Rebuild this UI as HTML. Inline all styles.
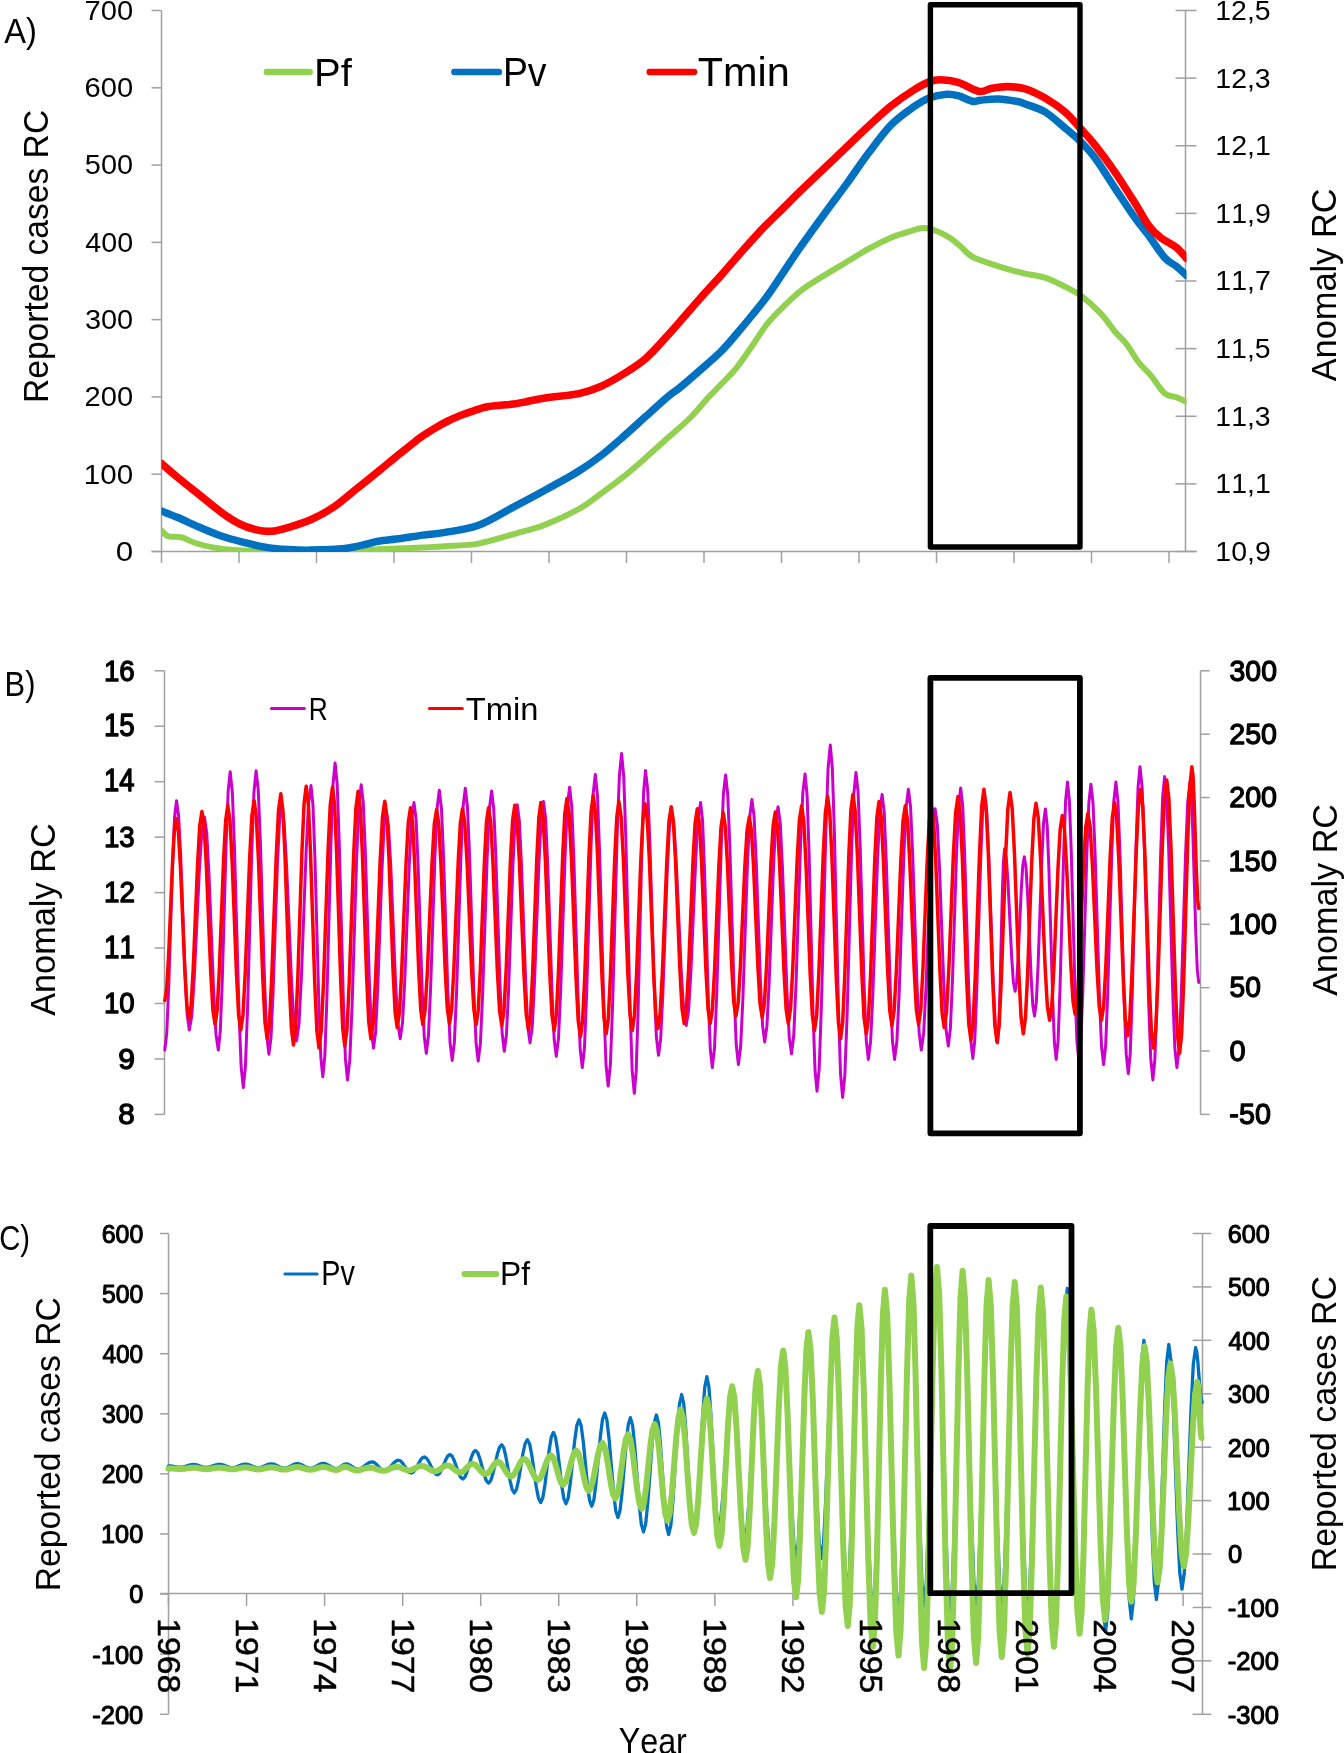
<!DOCTYPE html>
<html><head><meta charset="utf-8"><title>Figure</title>
<style>html,body{margin:0;padding:0;background:#fff;}body{width:1344px;height:1753px;overflow:hidden;}svg{display:block;will-change:transform;}</style>
</head><body>
<svg width="1344" height="1753" viewBox="0 0 1344 1753">
<rect width="1344" height="1753" fill="#fff"/>
<line x1="161.50" y1="10.50" x2="161.50" y2="551.50" stroke="#a0a0a0" stroke-width="1.50"/>
<line x1="151.50" y1="10.50" x2="161.50" y2="10.50" stroke="#a0a0a0" stroke-width="1.50"/>
<line x1="151.50" y1="87.79" x2="161.50" y2="87.79" stroke="#a0a0a0" stroke-width="1.50"/>
<line x1="151.50" y1="165.07" x2="161.50" y2="165.07" stroke="#a0a0a0" stroke-width="1.50"/>
<line x1="151.50" y1="242.36" x2="161.50" y2="242.36" stroke="#a0a0a0" stroke-width="1.50"/>
<line x1="151.50" y1="319.64" x2="161.50" y2="319.64" stroke="#a0a0a0" stroke-width="1.50"/>
<line x1="151.50" y1="396.93" x2="161.50" y2="396.93" stroke="#a0a0a0" stroke-width="1.50"/>
<line x1="151.50" y1="474.21" x2="161.50" y2="474.21" stroke="#a0a0a0" stroke-width="1.50"/>
<line x1="151.50" y1="551.50" x2="161.50" y2="551.50" stroke="#a0a0a0" stroke-width="1.50"/>
<line x1="151.50" y1="551.50" x2="1196.50" y2="551.50" stroke="#a0a0a0" stroke-width="1.50"/>
<line x1="161.50" y1="551.50" x2="161.50" y2="563.00" stroke="#a0a0a0" stroke-width="1.50"/>
<line x1="239.00" y1="551.50" x2="239.00" y2="563.00" stroke="#a0a0a0" stroke-width="1.50"/>
<line x1="316.50" y1="551.50" x2="316.50" y2="563.00" stroke="#a0a0a0" stroke-width="1.50"/>
<line x1="394.00" y1="551.50" x2="394.00" y2="563.00" stroke="#a0a0a0" stroke-width="1.50"/>
<line x1="471.50" y1="551.50" x2="471.50" y2="563.00" stroke="#a0a0a0" stroke-width="1.50"/>
<line x1="549.00" y1="551.50" x2="549.00" y2="563.00" stroke="#a0a0a0" stroke-width="1.50"/>
<line x1="626.50" y1="551.50" x2="626.50" y2="563.00" stroke="#a0a0a0" stroke-width="1.50"/>
<line x1="704.00" y1="551.50" x2="704.00" y2="563.00" stroke="#a0a0a0" stroke-width="1.50"/>
<line x1="781.50" y1="551.50" x2="781.50" y2="563.00" stroke="#a0a0a0" stroke-width="1.50"/>
<line x1="859.00" y1="551.50" x2="859.00" y2="563.00" stroke="#a0a0a0" stroke-width="1.50"/>
<line x1="936.50" y1="551.50" x2="936.50" y2="563.00" stroke="#a0a0a0" stroke-width="1.50"/>
<line x1="1014.00" y1="551.50" x2="1014.00" y2="563.00" stroke="#a0a0a0" stroke-width="1.50"/>
<line x1="1091.50" y1="551.50" x2="1091.50" y2="563.00" stroke="#a0a0a0" stroke-width="1.50"/>
<line x1="1169.00" y1="551.50" x2="1169.00" y2="563.00" stroke="#a0a0a0" stroke-width="1.50"/>
<line x1="1185.50" y1="10.50" x2="1185.50" y2="551.50" stroke="#a0a0a0" stroke-width="1.50"/>
<line x1="1175.50" y1="10.50" x2="1196.50" y2="10.50" stroke="#a0a0a0" stroke-width="1.50"/>
<line x1="1175.50" y1="78.12" x2="1196.50" y2="78.12" stroke="#a0a0a0" stroke-width="1.50"/>
<line x1="1175.50" y1="145.75" x2="1196.50" y2="145.75" stroke="#a0a0a0" stroke-width="1.50"/>
<line x1="1175.50" y1="213.38" x2="1196.50" y2="213.38" stroke="#a0a0a0" stroke-width="1.50"/>
<line x1="1175.50" y1="281.00" x2="1196.50" y2="281.00" stroke="#a0a0a0" stroke-width="1.50"/>
<line x1="1175.50" y1="348.62" x2="1196.50" y2="348.62" stroke="#a0a0a0" stroke-width="1.50"/>
<line x1="1175.50" y1="416.25" x2="1196.50" y2="416.25" stroke="#a0a0a0" stroke-width="1.50"/>
<line x1="1175.50" y1="483.88" x2="1196.50" y2="483.88" stroke="#a0a0a0" stroke-width="1.50"/>
<line x1="1175.50" y1="551.50" x2="1196.50" y2="551.50" stroke="#a0a0a0" stroke-width="1.50"/>
<text transform="translate(84.51 19.85) scale(1.0740 1)" style="font-family:&quot;Liberation Sans&quot;,sans-serif;font-size:27.140px;font-weight:normal;font-kerning:none" fill="#000">700</text>
<text transform="translate(84.52 97.14) scale(1.0737 1)" style="font-family:&quot;Liberation Sans&quot;,sans-serif;font-size:27.140px;font-weight:normal;font-kerning:none" fill="#000">600</text>
<text transform="translate(84.84 174.42) scale(1.0664 1)" style="font-family:&quot;Liberation Sans&quot;,sans-serif;font-size:27.140px;font-weight:normal;font-kerning:none" fill="#000">500</text>
<text transform="translate(85.34 251.71) scale(1.0551 1)" style="font-family:&quot;Liberation Sans&quot;,sans-serif;font-size:27.140px;font-weight:normal;font-kerning:none" fill="#000">400</text>
<text transform="translate(84.90 328.99) scale(1.0651 1)" style="font-family:&quot;Liberation Sans&quot;,sans-serif;font-size:27.140px;font-weight:normal;font-kerning:none" fill="#000">300</text>
<text transform="translate(84.53 406.28) scale(1.0734 1)" style="font-family:&quot;Liberation Sans&quot;,sans-serif;font-size:27.140px;font-weight:normal;font-kerning:none" fill="#000">200</text>
<text transform="translate(83.74 483.56) scale(1.0912 1)" style="font-family:&quot;Liberation Sans&quot;,sans-serif;font-size:27.140px;font-weight:normal;font-kerning:none" fill="#000">100</text>
<text transform="translate(115.77 560.85) scale(1.1562 1)" style="font-family:&quot;Liberation Sans&quot;,sans-serif;font-size:27.140px;font-weight:normal;font-kerning:none" fill="#000">0</text>
<text transform="translate(1215.34 19.90) scale(1.0166 1)" style="font-family:&quot;Liberation Sans&quot;,sans-serif;font-size:27.927px;font-weight:normal;font-kerning:none" fill="#000">12,5</text>
<text transform="translate(1215.34 87.53) scale(1.0176 1)" style="font-family:&quot;Liberation Sans&quot;,sans-serif;font-size:27.927px;font-weight:normal;font-kerning:none" fill="#000">12,3</text>
<text transform="translate(1215.33 155.15) scale(1.0204 1)" style="font-family:&quot;Liberation Sans&quot;,sans-serif;font-size:27.927px;font-weight:normal;font-kerning:none" fill="#000">12,1</text>
<text transform="translate(1215.33 222.78) scale(1.0196 1)" style="font-family:&quot;Liberation Sans&quot;,sans-serif;font-size:27.927px;font-weight:normal;font-kerning:none" fill="#000">11,9</text>
<text transform="translate(1215.33 290.40) scale(1.0062 1)" style="font-family:&quot;Liberation Sans&quot;,sans-serif;font-size:28.344px;font-weight:normal;font-kerning:none" fill="#000">11,7</text>
<text transform="translate(1215.34 358.02) scale(1.0016 1)" style="font-family:&quot;Liberation Sans&quot;,sans-serif;font-size:28.344px;font-weight:normal;font-kerning:none" fill="#000">11,5</text>
<text transform="translate(1215.34 425.65) scale(1.0176 1)" style="font-family:&quot;Liberation Sans&quot;,sans-serif;font-size:27.927px;font-weight:normal;font-kerning:none" fill="#000">11,3</text>
<text transform="translate(1215.33 493.27) scale(1.0054 1)" style="font-family:&quot;Liberation Sans&quot;,sans-serif;font-size:28.344px;font-weight:normal;font-kerning:none" fill="#000">11,1</text>
<text transform="translate(1215.33 560.90) scale(1.0196 1)" style="font-family:&quot;Liberation Sans&quot;,sans-serif;font-size:27.927px;font-weight:normal;font-kerning:none" fill="#000">10,9</text>
<text transform="translate(4.14 42.90) scale(0.9290 1)" style="font-family:&quot;Liberation Sans&quot;,sans-serif;font-size:35.191px;font-weight:normal;font-kerning:none" fill="#000">A)</text>
<text transform="translate(48.40 403.06) rotate(-90) scale(0.9515 1)" style="font-family:&quot;Liberation Sans&quot;,sans-serif;font-size:35.329px;font-weight:normal;font-kerning:none" fill="#000">Reported cases RC</text>
<text transform="translate(1336.20 381.37) rotate(-90) scale(0.9808 1)" style="font-family:&quot;Liberation Sans&quot;,sans-serif;font-size:35.053px;font-weight:normal;font-kerning:none" fill="#000">Anomaly RC</text>
<line x1="266.8" y1="72.1" x2="309.7" y2="72.1" stroke="#92D050" stroke-width="6.5" stroke-linecap="round"/>
<text transform="translate(314.12 86.10) scale(1.0201 1)" style="font-family:&quot;Liberation Sans&quot;,sans-serif;font-size:39.246px;font-weight:normal;font-kerning:none" fill="#000">Pf</text>
<line x1="454.4" y1="72.1" x2="498.9" y2="72.1" stroke="#0070C0" stroke-width="6.5" stroke-linecap="round"/>
<text transform="translate(502.94 86.10) scale(0.9049 1)" style="font-family:&quot;Liberation Sans&quot;,sans-serif;font-size:41.280px;font-weight:normal;font-kerning:none" fill="#000">Pv</text>
<line x1="649.7" y1="72.1" x2="694.0" y2="72.1" stroke="#FF0000" stroke-width="6.5" stroke-linecap="round"/>
<text transform="translate(697.77 86.10) scale(1.0323 1)" style="font-family:&quot;Liberation Sans&quot;,sans-serif;font-size:40.160px;font-weight:normal;font-kerning:none" fill="#000">Tmin</text>
<defs><clipPath id="clipA"><rect x="161.5" y="0" width="1025" height="552"/></clipPath></defs>
<g clip-path="url(#clipA)" fill="none" stroke-linejoin="round" stroke-linecap="round">
<path d="M161.50,530.50 C162.65,531.47 165.02,535.15 168.40,536.30 C171.78,537.45 177.33,536.28 181.80,537.40 C186.27,538.52 190.00,541.33 195.20,543.00 C200.40,544.67 206.68,546.23 213.00,547.40 C219.32,548.57 225.27,549.40 233.10,550.00 C240.93,550.60 248.85,550.83 260.00,551.00 C271.15,551.17 286.67,551.00 300.00,551.00 C313.33,551.00 326.97,551.30 340.00,551.00 C353.03,550.70 364.38,549.80 378.20,549.20 C392.02,548.60 411.77,547.88 422.90,547.40 C434.03,546.92 435.73,546.93 445.00,546.30 C454.27,545.67 467.33,545.55 478.50,543.60 C489.67,541.65 500.85,537.77 512.00,534.60 C523.15,531.43 534.25,528.87 545.40,524.60 C556.55,520.33 569.58,514.22 578.90,509.00 C588.22,503.78 593.85,498.70 601.30,493.30 C608.75,487.90 616.17,482.55 623.60,476.60 C631.03,470.65 638.47,464.12 645.90,457.60 C653.33,451.08 660.77,444.18 668.20,437.50 C675.63,430.82 683.92,424.07 690.50,417.50 C697.08,410.93 702.60,403.63 707.70,398.10 C712.80,392.57 716.30,389.35 721.10,384.30 C725.90,379.25 731.37,374.13 736.50,367.80 C741.63,361.47 746.77,353.65 751.90,346.30 C757.03,338.95 762.17,330.20 767.30,323.70 C772.43,317.20 776.92,312.93 782.70,307.30 C788.48,301.67 795.07,295.22 802.00,289.90 C808.93,284.58 816.87,280.05 824.30,275.40 C831.73,270.75 839.17,266.47 846.60,262.00 C854.03,257.53 861.45,252.68 868.90,248.60 C876.35,244.52 885.35,240.10 891.30,237.50 C897.25,234.90 899.28,234.58 904.60,233.00 C909.92,231.42 917.98,228.37 923.20,228.00 C928.42,227.63 931.55,229.22 935.90,230.80 C940.25,232.38 945.28,235.00 949.30,237.50 C953.32,240.00 956.28,242.65 960.00,245.80 C963.72,248.95 966.32,253.33 971.60,256.40 C976.88,259.47 984.63,261.78 991.70,264.20 C998.77,266.62 1008.45,269.33 1014.00,270.90 C1019.55,272.47 1019.83,272.48 1025.00,273.60 C1030.17,274.72 1038.35,275.43 1045.00,277.60 C1051.65,279.77 1058.92,283.60 1064.90,286.60 C1070.88,289.60 1074.90,291.10 1080.90,295.60 C1086.90,300.10 1095.25,307.62 1100.90,313.60 C1106.55,319.58 1110.48,326.35 1114.80,331.50 C1119.12,336.65 1122.80,339.33 1126.80,344.50 C1130.80,349.67 1134.80,357.35 1138.80,362.50 C1142.80,367.65 1146.48,370.25 1150.80,375.40 C1155.12,380.55 1160.38,389.73 1164.70,393.40 C1169.02,397.07 1173.07,396.00 1176.70,397.40 C1180.33,398.80 1184.87,401.07 1186.50,401.80" stroke="#92D050" stroke-width="6"/>
<path d="M161.50,511.00 C164.13,512.05 170.95,514.58 177.30,517.30 C183.65,520.02 192.15,524.13 199.60,527.30 C207.05,530.47 214.55,533.77 222.00,536.30 C229.45,538.83 236.87,540.65 244.30,542.50 C251.73,544.35 259.17,546.22 266.60,547.40 C274.03,548.58 281.45,549.15 288.90,549.60 C296.35,550.05 302.00,550.28 311.30,550.10 C320.60,549.92 335.42,549.52 344.70,548.50 C353.98,547.48 361.42,545.22 367.00,544.00 C372.58,542.78 372.62,542.12 378.20,541.20 C383.78,540.28 393.05,539.52 400.50,538.50 C407.95,537.48 415.48,536.12 422.90,535.10 C430.32,534.08 435.73,534.03 445.00,532.40 C454.27,530.77 467.33,529.38 478.50,525.30 C489.67,521.22 500.85,513.78 512.00,507.90 C523.15,502.02 534.25,496.15 545.40,490.00 C556.55,483.85 569.58,476.77 578.90,471.00 C588.22,465.23 593.85,461.17 601.30,455.40 C608.75,449.63 616.17,442.92 623.60,436.40 C631.03,429.88 638.47,422.98 645.90,416.30 C653.33,409.62 662.52,401.10 668.20,396.30 C673.88,391.50 674.62,391.90 680.00,387.50 C685.38,383.10 693.65,375.92 700.50,369.90 C707.35,363.88 715.10,357.38 721.10,351.40 C727.10,345.42 731.37,339.98 736.50,334.00 C741.63,328.02 746.77,321.83 751.90,315.50 C757.03,309.17 762.17,303.02 767.30,296.00 C772.43,288.98 777.25,281.45 782.70,273.40 C788.15,265.35 793.07,257.60 800.00,247.70 C806.93,237.80 816.53,224.63 824.30,214.00 C832.07,203.37 839.17,194.13 846.60,183.90 C854.03,173.67 861.45,162.47 868.90,152.60 C876.35,142.73 883.85,132.32 891.30,124.70 C898.75,117.08 907.28,111.37 913.60,106.90 C919.92,102.43 923.68,100.02 929.20,97.90 C934.72,95.78 941.87,94.57 946.70,94.20 C951.53,93.83 953.88,94.52 958.20,95.70 C962.52,96.88 968.88,100.55 972.60,101.30 C976.32,102.05 976.20,100.58 980.50,100.20 C984.80,99.82 992.43,98.82 998.40,99.00 C1004.37,99.18 1011.87,100.48 1016.30,101.30 C1020.73,102.12 1020.22,102.13 1025.00,103.90 C1029.78,105.67 1038.35,107.90 1045.00,111.90 C1051.65,115.90 1058.92,122.90 1064.90,127.90 C1070.88,132.90 1075.90,136.92 1080.90,141.90 C1085.90,146.88 1089.25,150.15 1094.90,157.80 C1100.55,165.45 1108.15,177.82 1114.80,187.80 C1121.45,197.78 1129.13,209.72 1134.80,217.70 C1140.47,225.68 1143.82,229.03 1148.80,235.70 C1153.78,242.37 1160.05,252.55 1164.70,257.70 C1169.35,262.85 1173.07,263.63 1176.70,266.60 C1180.33,269.57 1184.87,274.02 1186.50,275.50" stroke="#0070C0" stroke-width="7.5"/>
<path d="M161.50,463.50 C164.13,465.77 170.95,471.85 177.30,477.10 C183.65,482.35 192.15,489.05 199.60,495.00 C207.05,500.95 215.30,507.97 222.00,512.80 C228.70,517.63 234.23,521.20 239.80,524.00 C245.37,526.80 250.20,528.38 255.40,529.60 C260.60,530.82 265.42,531.68 271.00,531.30 C276.58,530.92 282.18,529.27 288.90,527.30 C295.62,525.33 303.85,522.85 311.30,519.50 C318.75,516.15 326.17,512.22 333.60,507.20 C341.03,502.18 348.47,495.35 355.90,489.40 C363.33,483.45 371.95,476.57 378.20,471.50 C384.45,466.43 388.63,462.87 393.40,459.00 C398.17,455.13 402.33,451.87 406.80,448.30 C411.27,444.73 415.73,440.83 420.20,437.60 C424.67,434.37 429.13,431.58 433.60,428.90 C438.07,426.22 442.53,423.73 447.00,421.50 C451.47,419.27 455.95,417.28 460.40,415.50 C464.85,413.72 469.25,412.25 473.70,410.80 C478.15,409.35 482.63,407.73 487.10,406.80 C491.57,405.87 496.03,405.65 500.50,405.20 C504.97,404.75 509.43,404.73 513.90,404.10 C518.37,403.47 522.83,402.30 527.30,401.40 C531.77,400.50 536.23,399.48 540.70,398.70 C545.17,397.92 547.73,397.55 554.10,396.70 C560.47,395.85 571.03,395.35 578.90,393.60 C586.77,391.85 593.85,389.48 601.30,386.20 C608.75,382.92 616.17,378.55 623.60,373.90 C631.03,369.25 638.47,364.80 645.90,358.30 C653.33,351.80 662.52,341.02 668.20,334.90 C673.88,328.78 674.62,327.75 680.00,321.60 C685.38,315.45 693.65,305.70 700.50,298.00 C707.35,290.30 714.25,283.10 721.10,275.40 C727.95,267.70 734.77,259.50 741.60,251.80 C748.43,244.10 755.77,235.87 762.10,229.20 C768.43,222.53 772.95,218.42 779.60,211.80 C786.25,205.18 794.55,196.75 802.00,189.50 C809.45,182.25 816.87,175.38 824.30,168.30 C831.73,161.22 839.17,154.08 846.60,147.00 C854.03,139.92 861.45,132.67 868.90,125.80 C876.35,118.93 883.85,111.75 891.30,105.80 C898.75,99.85 907.28,94.08 913.60,90.10 C919.92,86.12 924.73,83.62 929.20,81.90 C933.67,80.18 935.57,79.73 940.40,79.80 C945.23,79.87 951.72,80.37 958.20,82.30 C964.68,84.23 973.72,90.40 979.30,91.40 C984.88,92.40 987.03,89.10 991.70,88.30 C996.37,87.50 1001.72,86.52 1007.30,86.60 C1012.88,86.68 1018.92,86.90 1025.20,88.80 C1031.48,90.70 1038.38,94.15 1045.00,98.00 C1051.62,101.85 1058.92,106.75 1064.90,111.90 C1070.88,117.05 1075.90,123.40 1080.90,128.90 C1085.90,134.40 1089.25,137.75 1094.90,144.90 C1100.55,152.05 1108.15,162.15 1114.80,171.80 C1121.45,181.45 1129.13,193.82 1134.80,202.80 C1140.47,211.78 1144.47,219.88 1148.80,225.70 C1153.13,231.52 1156.15,234.03 1160.80,237.70 C1165.45,241.37 1172.42,244.23 1176.70,247.70 C1180.98,251.17 1184.87,256.70 1186.50,258.50" stroke="#FF0000" stroke-width="7.6"/>
</g>
<rect x="930.4" y="4.8" width="149.6" height="542.2" fill="none" stroke="#000" stroke-width="5.4" stroke-linejoin="round"/>
<line x1="164.50" y1="670.80" x2="164.50" y2="1114.40" stroke="#a0a0a0" stroke-width="1.50"/>
<line x1="154.60" y1="670.80" x2="164.50" y2="670.80" stroke="#a0a0a0" stroke-width="1.50"/>
<text transform="translate(103.94 680.50) scale(0.9148 1)" style="font-family:&quot;Liberation Sans&quot;,sans-serif;font-size:30.298px;font-weight:normal;font-kerning:none" fill="#000" stroke="#000" stroke-width="1.30" stroke-linejoin="round">16</text>
<line x1="154.60" y1="726.25" x2="164.50" y2="726.25" stroke="#a0a0a0" stroke-width="1.50"/>
<text transform="translate(103.94 735.95) scale(0.8996 1)" style="font-family:&quot;Liberation Sans&quot;,sans-serif;font-size:30.749px;font-weight:normal;font-kerning:none" fill="#000" stroke="#000" stroke-width="1.30" stroke-linejoin="round">15</text>
<line x1="154.60" y1="781.70" x2="164.50" y2="781.70" stroke="#a0a0a0" stroke-width="1.50"/>
<text transform="translate(103.97 791.40) scale(0.8883 1)" style="font-family:&quot;Liberation Sans&quot;,sans-serif;font-size:30.749px;font-weight:normal;font-kerning:none" fill="#000" stroke="#000" stroke-width="1.30" stroke-linejoin="round">14</text>
<line x1="154.60" y1="837.15" x2="164.50" y2="837.15" stroke="#a0a0a0" stroke-width="1.50"/>
<text transform="translate(103.94 846.85) scale(0.9148 1)" style="font-family:&quot;Liberation Sans&quot;,sans-serif;font-size:30.298px;font-weight:normal;font-kerning:none" fill="#000" stroke="#000" stroke-width="1.30" stroke-linejoin="round">13</text>
<line x1="154.60" y1="892.60" x2="164.50" y2="892.60" stroke="#a0a0a0" stroke-width="1.50"/>
<text transform="translate(103.93 902.30) scale(0.9207 1)" style="font-family:&quot;Liberation Sans&quot;,sans-serif;font-size:30.298px;font-weight:normal;font-kerning:none" fill="#000" stroke="#000" stroke-width="1.30" stroke-linejoin="round">12</text>
<line x1="154.60" y1="948.05" x2="164.50" y2="948.05" stroke="#a0a0a0" stroke-width="1.50"/>
<text transform="translate(103.93 957.75) scale(0.9058 1)" style="font-family:&quot;Liberation Sans&quot;,sans-serif;font-size:30.749px;font-weight:normal;font-kerning:none" fill="#000" stroke="#000" stroke-width="1.30" stroke-linejoin="round">11</text>
<line x1="154.60" y1="1003.50" x2="164.50" y2="1003.50" stroke="#a0a0a0" stroke-width="1.50"/>
<text transform="translate(103.95 1013.20) scale(0.9103 1)" style="font-family:&quot;Liberation Sans&quot;,sans-serif;font-size:30.298px;font-weight:normal;font-kerning:none" fill="#000" stroke="#000" stroke-width="1.30" stroke-linejoin="round">10</text>
<line x1="154.60" y1="1058.95" x2="164.50" y2="1058.95" stroke="#a0a0a0" stroke-width="1.50"/>
<text transform="translate(118.24 1068.66) scale(0.9932 1)" style="font-family:&quot;Liberation Sans&quot;,sans-serif;font-size:30.298px;font-weight:normal;font-kerning:none" fill="#000" stroke="#000" stroke-width="1.30" stroke-linejoin="round">9</text>
<line x1="154.60" y1="1114.40" x2="164.50" y2="1114.40" stroke="#a0a0a0" stroke-width="1.50"/>
<text transform="translate(118.36 1124.11) scale(0.9777 1)" style="font-family:&quot;Liberation Sans&quot;,sans-serif;font-size:30.298px;font-weight:normal;font-kerning:none" fill="#000" stroke="#000" stroke-width="1.30" stroke-linejoin="round">8</text>
<line x1="1200.50" y1="670.80" x2="1200.50" y2="1114.40" stroke="#a0a0a0" stroke-width="1.50"/>
<line x1="1200.50" y1="670.80" x2="1209.70" y2="670.80" stroke="#a0a0a0" stroke-width="1.50"/>
<text transform="translate(1229.57 680.50) scale(0.9375 1)" style="font-family:&quot;Liberation Sans&quot;,sans-serif;font-size:30.298px;font-weight:normal;font-kerning:none" fill="#000" stroke="#000" stroke-width="1.30" stroke-linejoin="round">300</text>
<line x1="1200.50" y1="734.17" x2="1209.70" y2="734.17" stroke="#a0a0a0" stroke-width="1.50"/>
<text transform="translate(1229.21 743.88) scale(0.9448 1)" style="font-family:&quot;Liberation Sans&quot;,sans-serif;font-size:30.298px;font-weight:normal;font-kerning:none" fill="#000" stroke="#000" stroke-width="1.30" stroke-linejoin="round">250</text>
<line x1="1200.50" y1="797.54" x2="1209.70" y2="797.54" stroke="#a0a0a0" stroke-width="1.50"/>
<text transform="translate(1229.21 807.25) scale(0.9448 1)" style="font-family:&quot;Liberation Sans&quot;,sans-serif;font-size:30.298px;font-weight:normal;font-kerning:none" fill="#000" stroke="#000" stroke-width="1.30" stroke-linejoin="round">200</text>
<line x1="1200.50" y1="860.91" x2="1209.70" y2="860.91" stroke="#a0a0a0" stroke-width="1.50"/>
<text transform="translate(1228.43 870.62) scale(0.9605 1)" style="font-family:&quot;Liberation Sans&quot;,sans-serif;font-size:30.298px;font-weight:normal;font-kerning:none" fill="#000" stroke="#000" stroke-width="1.30" stroke-linejoin="round">150</text>
<line x1="1200.50" y1="924.29" x2="1209.70" y2="924.29" stroke="#a0a0a0" stroke-width="1.50"/>
<text transform="translate(1228.43 933.99) scale(0.9605 1)" style="font-family:&quot;Liberation Sans&quot;,sans-serif;font-size:30.298px;font-weight:normal;font-kerning:none" fill="#000" stroke="#000" stroke-width="1.30" stroke-linejoin="round">100</text>
<line x1="1200.50" y1="987.66" x2="1209.70" y2="987.66" stroke="#a0a0a0" stroke-width="1.50"/>
<text transform="translate(1229.52 997.36) scale(0.9328 1)" style="font-family:&quot;Liberation Sans&quot;,sans-serif;font-size:30.298px;font-weight:normal;font-kerning:none" fill="#000" stroke="#000" stroke-width="1.30" stroke-linejoin="round">50</text>
<line x1="1200.50" y1="1051.03" x2="1209.70" y2="1051.03" stroke="#a0a0a0" stroke-width="1.50"/>
<text transform="translate(1229.52 1060.73) scale(0.9528 1)" style="font-family:&quot;Liberation Sans&quot;,sans-serif;font-size:30.298px;font-weight:normal;font-kerning:none" fill="#000" stroke="#000" stroke-width="1.30" stroke-linejoin="round">0</text>
<line x1="1200.50" y1="1114.40" x2="1209.70" y2="1114.40" stroke="#a0a0a0" stroke-width="1.50"/>
<text transform="translate(1229.37 1124.11) scale(0.9477 1)" style="font-family:&quot;Liberation Sans&quot;,sans-serif;font-size:30.298px;font-weight:normal;font-kerning:none" fill="#000" stroke="#000" stroke-width="1.30" stroke-linejoin="round">-50</text>
<text transform="translate(4.57 695.90) scale(0.8764 1)" style="font-family:&quot;Liberation Sans&quot;,sans-serif;font-size:35.191px;font-weight:normal;font-kerning:none" fill="#000">B)</text>
<text transform="translate(54.60 1015.87) rotate(-90) scale(0.9679 1)" style="font-family:&quot;Liberation Sans&quot;,sans-serif;font-size:35.467px;font-weight:normal;font-kerning:none" fill="#000">Anomaly RC</text>
<text transform="translate(1337.10 995.87) rotate(-90) scale(0.9643 1)" style="font-family:&quot;Liberation Sans&quot;,sans-serif;font-size:35.467px;font-weight:normal;font-kerning:none" fill="#000">Anomaly RC</text>
<line x1="271.5" y1="708.6" x2="304.3" y2="708.6" stroke="#CC00CC" stroke-width="3" stroke-linecap="round"/>
<text transform="translate(308.74 719.50) scale(0.8179 1)" style="font-family:&quot;Liberation Sans&quot;,sans-serif;font-size:32.123px;font-weight:normal;font-kerning:none" fill="#000">R</text>
<line x1="429.4" y1="708.6" x2="462.3" y2="708.6" stroke="#FF0000" stroke-width="3" stroke-linecap="round"/>
<text transform="translate(465.77 719.50) scale(1.0721 1)" style="font-family:&quot;Liberation Sans&quot;,sans-serif;font-size:30.499px;font-weight:normal;font-kerning:none" fill="#000">Tmin</text>
<g fill="none" stroke-linejoin="round" stroke-linecap="round">
<path d="M164.80,1050.00 L166.75,1033.30 L168.70,987.68 L170.65,925.35 L172.60,863.03 L174.55,817.40 L176.50,800.70 L178.63,816.06 L180.77,858.02 L182.90,915.35 L185.03,972.67 L187.17,1014.64 L189.30,1030.00 L191.82,1015.73 L194.33,976.75 L196.85,923.50 L199.37,870.25 L201.88,831.27 L204.40,817.00 L206.72,832.61 L209.03,875.25 L211.35,933.50 L213.67,991.75 L215.98,1034.39 L218.30,1050.00 L220.28,1031.36 L222.27,980.43 L224.25,910.85 L226.23,841.28 L228.22,790.34 L230.20,771.70 L232.38,792.85 L234.57,850.65 L236.75,929.60 L238.93,1008.55 L241.12,1066.35 L243.30,1087.50 L245.43,1066.29 L247.57,1008.33 L249.70,929.15 L251.83,849.98 L253.97,792.01 L256.10,770.80 L258.23,789.78 L260.37,841.65 L262.50,912.50 L264.63,983.35 L266.77,1035.22 L268.90,1054.20 L271.00,1037.57 L273.10,992.15 L275.20,930.10 L277.30,868.05 L279.40,822.63 L281.50,806.00 L284.02,821.74 L286.53,864.73 L289.05,923.45 L291.57,982.18 L294.08,1025.16 L296.60,1040.90 L299.00,1023.80 L301.40,977.08 L303.80,913.25 L306.20,849.43 L308.60,802.70 L311.00,785.60 L312.97,805.11 L314.93,858.40 L316.90,931.20 L318.87,1004.00 L320.83,1057.29 L322.80,1076.80 L324.85,1055.78 L326.90,998.35 L328.95,919.90 L331.00,841.45 L333.05,784.02 L335.10,763.00 L337.17,784.23 L339.23,842.23 L341.30,921.45 L343.37,1000.68 L345.43,1058.67 L347.50,1079.90 L349.78,1060.13 L352.07,1006.13 L354.35,932.35 L356.63,858.58 L358.92,804.57 L361.20,784.80 L363.25,802.44 L365.30,850.62 L367.35,916.45 L369.40,982.27 L371.45,1030.46 L373.50,1048.10 L375.62,1032.21 L377.73,988.80 L379.85,929.50 L381.97,870.20 L384.08,826.79 L386.20,810.90 L388.53,826.17 L390.87,867.88 L393.20,924.85 L395.53,981.82 L397.87,1023.53 L400.20,1038.80 L402.50,1022.98 L404.80,979.75 L407.10,920.70 L409.40,861.65 L411.70,818.42 L414.00,802.60 L416.05,819.39 L418.10,865.25 L420.15,927.90 L422.20,990.55 L424.25,1036.41 L426.30,1053.20 L428.47,1035.59 L430.63,987.48 L432.80,921.75 L434.97,856.02 L437.13,807.91 L439.30,790.30 L441.45,808.39 L443.60,857.82 L445.75,925.35 L447.90,992.88 L450.05,1042.31 L452.20,1060.40 L454.38,1042.17 L456.57,992.38 L458.75,924.35 L460.93,856.33 L463.12,806.53 L465.30,788.30 L467.45,806.57 L469.60,856.47 L471.75,924.65 L473.90,992.82 L476.05,1042.73 L478.20,1061.00 L480.43,1042.91 L482.67,993.48 L484.90,925.95 L487.13,858.42 L489.37,808.99 L491.60,790.90 L493.72,808.34 L495.83,855.98 L497.95,921.05 L500.07,986.12 L502.18,1033.76 L504.30,1051.20 L506.45,1034.69 L508.60,989.58 L510.75,927.95 L512.90,866.33 L515.05,821.21 L517.20,804.70 L519.33,820.66 L521.47,864.25 L523.60,923.80 L525.73,983.35 L527.87,1026.94 L530.00,1042.90 L532.25,1026.74 L534.50,982.58 L536.75,922.25 L539.00,861.93 L541.25,817.76 L543.50,801.60 L545.63,818.66 L547.77,865.27 L549.90,928.95 L552.03,992.62 L554.17,1039.24 L556.30,1056.30 L558.52,1038.27 L560.73,989.02 L562.95,921.75 L565.17,854.48 L567.38,805.23 L569.60,787.20 L571.72,805.98 L573.83,857.30 L575.95,927.40 L578.07,997.50 L580.18,1048.82 L582.30,1067.60 L584.47,1047.97 L586.63,994.32 L588.80,921.05 L590.97,847.77 L593.13,794.13 L595.30,774.50 L597.45,795.37 L599.60,852.40 L601.75,930.30 L603.90,1008.20 L606.05,1065.23 L608.20,1086.10 L610.43,1063.81 L612.67,1002.92 L614.90,919.75 L617.13,836.58 L619.37,775.69 L621.60,753.40 L623.72,776.17 L625.83,838.38 L627.95,923.35 L630.07,1008.32 L632.18,1070.53 L634.30,1093.30 L636.17,1071.67 L638.03,1012.57 L639.90,931.85 L641.77,851.12 L643.63,792.03 L645.50,770.40 L647.67,789.48 L649.83,841.62 L652.00,912.85 L654.17,984.07 L656.33,1036.22 L658.50,1055.30 L660.67,1039.00 L662.83,994.48 L665.00,933.65 L667.17,872.83 L669.33,828.30 L671.50,812.00 L673.95,826.30 L676.40,865.38 L678.85,918.75 L681.30,972.12 L683.75,1011.20 L686.20,1025.50 L688.60,1010.57 L691.00,969.77 L693.40,914.05 L695.80,858.33 L698.20,817.53 L700.60,802.60 L702.55,820.35 L704.50,868.85 L706.45,935.10 L708.40,1001.35 L710.35,1049.85 L712.30,1067.60 L714.52,1047.99 L716.73,994.42 L718.95,921.25 L721.17,848.08 L723.38,794.51 L725.60,774.90 L727.73,794.30 L729.87,847.30 L732.00,919.70 L734.13,992.10 L736.27,1045.10 L738.40,1064.50 L740.65,1046.76 L742.90,998.27 L745.15,932.05 L747.40,865.83 L749.65,817.34 L751.90,799.60 L754.03,815.83 L756.17,860.18 L758.30,920.75 L760.43,981.33 L762.57,1025.67 L764.70,1041.90 L766.92,1026.14 L769.13,983.10 L771.35,924.30 L773.57,865.50 L775.78,822.46 L778.00,806.70 L780.25,823.25 L782.50,868.45 L784.75,930.20 L787.00,991.95 L789.25,1037.15 L791.50,1053.70 L793.77,1034.96 L796.03,983.75 L798.30,913.80 L800.57,843.85 L802.83,792.64 L805.10,773.90 L807.08,795.16 L809.07,853.23 L811.05,932.55 L813.03,1011.88 L815.02,1069.94 L817.00,1091.20 L819.22,1068.02 L821.43,1004.68 L823.65,918.15 L825.87,831.62 L828.08,768.28 L830.30,745.10 L832.35,768.70 L834.40,833.18 L836.45,921.25 L838.50,1009.33 L840.55,1073.80 L842.60,1097.40 L844.83,1075.64 L847.07,1016.18 L849.30,934.95 L851.53,853.73 L853.77,794.26 L856.00,772.50 L858.05,791.72 L860.10,844.23 L862.15,915.95 L864.20,987.68 L866.25,1040.18 L868.30,1059.40 L870.60,1041.65 L872.90,993.15 L875.20,926.90 L877.50,860.65 L879.80,812.15 L882.10,794.40 L884.18,812.15 L886.27,860.65 L888.35,926.90 L890.43,993.15 L892.52,1041.65 L894.60,1059.40 L896.90,1041.31 L899.20,991.88 L901.50,924.35 L903.80,856.83 L906.10,807.39 L908.40,789.30 L910.55,806.77 L912.70,854.50 L914.85,919.70 L917.00,984.90 L919.15,1032.63 L921.30,1050.10 L923.60,1033.94 L925.90,989.77 L928.20,929.45 L930.50,869.12 L932.80,824.96 L935.10,808.80 L937.30,824.69 L939.50,868.10 L941.70,927.40 L943.90,986.70 L946.10,1030.11 L948.30,1046.00 L950.37,1028.72 L952.43,981.50 L954.50,917.00 L956.57,852.50 L958.63,805.28 L960.70,788.00 L962.72,806.11 L964.73,855.60 L966.75,923.20 L968.77,990.80 L970.78,1040.29 L972.80,1058.40 L974.75,1040.82 L976.70,992.80 L978.65,927.20 L980.60,861.60 L982.55,813.58 L984.50,796.00 L986.67,812.55 L988.83,857.75 L991.00,919.50 L993.17,981.25 L995.33,1026.45 L997.50,1043.00 L998.68,1029.99 L999.87,994.45 L1001.05,945.90 L1002.23,897.35 L1003.42,861.81 L1004.60,848.80 L1006.35,858.34 L1008.10,884.40 L1009.85,920.00 L1011.60,955.60 L1013.35,981.66 L1015.10,991.20 L1016.63,982.19 L1018.17,957.58 L1019.70,923.95 L1021.23,890.33 L1022.77,865.71 L1024.30,856.70 L1026.00,867.37 L1027.70,896.52 L1029.40,936.35 L1031.10,976.17 L1032.80,1005.33 L1034.50,1016.00 L1036.32,1002.13 L1038.13,964.23 L1039.95,912.45 L1041.77,860.67 L1043.58,822.77 L1045.40,808.90 L1047.20,825.68 L1049.00,871.52 L1050.80,934.15 L1052.60,996.78 L1054.40,1042.62 L1056.20,1059.40 L1058.08,1040.82 L1059.97,990.08 L1061.85,920.75 L1063.73,851.43 L1065.62,800.68 L1067.50,782.10 L1069.38,800.72 L1071.27,851.58 L1073.15,921.05 L1075.03,990.52 L1076.92,1041.38 L1078.80,1060.00 L1080.82,1041.52 L1082.83,991.05 L1084.85,922.10 L1086.87,853.15 L1088.88,802.68 L1090.90,784.20 L1093.02,802.98 L1095.13,854.27 L1097.25,924.35 L1099.37,994.42 L1101.48,1045.72 L1103.60,1064.50 L1105.65,1045.58 L1107.70,993.90 L1109.75,923.30 L1111.80,852.70 L1113.85,801.02 L1115.90,782.10 L1117.97,801.63 L1120.03,855.00 L1122.10,927.90 L1124.17,1000.80 L1126.23,1054.17 L1128.30,1073.70 L1130.25,1053.13 L1132.20,996.95 L1134.15,920.20 L1136.10,843.45 L1138.05,787.27 L1140.00,766.70 L1142.15,787.68 L1144.30,845.00 L1146.45,923.30 L1148.60,1001.60 L1150.75,1058.92 L1152.90,1079.90 L1154.85,1059.58 L1156.80,1004.08 L1158.75,928.25 L1160.70,852.43 L1162.65,796.92 L1164.60,776.60 L1166.65,796.09 L1168.70,849.35 L1170.75,922.10 L1172.80,994.85 L1174.85,1048.11 L1176.90,1067.60 L1179.07,1048.54 L1181.23,996.47 L1183.40,925.35 L1185.57,854.23 L1187.73,802.16 L1189.90,783.10 L1191.37,796.45 L1192.83,832.92 L1194.30,882.75 L1195.77,932.57 L1197.23,969.05 L1198.70,982.40" stroke="#CC00CC" stroke-width="3"/>
<path d="M164.80,1000.50 L166.72,988.31 L168.63,955.00 L170.55,909.50 L172.47,864.00 L174.38,830.69 L176.30,818.50 L178.42,831.93 L180.53,868.62 L182.65,918.75 L184.77,968.88 L186.88,1005.57 L189.00,1019.00 L191.15,1005.11 L193.30,967.15 L195.45,915.30 L197.60,863.45 L199.75,825.49 L201.90,811.60 L204.10,825.87 L206.30,864.85 L208.50,918.10 L210.70,971.35 L212.90,1010.33 L215.10,1024.60 L217.22,1009.93 L219.33,969.85 L221.45,915.10 L223.57,860.35 L225.68,820.27 L227.80,805.60 L229.97,820.63 L232.13,861.70 L234.30,917.80 L236.47,973.90 L238.63,1014.97 L240.80,1030.00 L243.02,1014.63 L245.23,972.65 L247.45,915.30 L249.67,857.95 L251.88,815.97 L254.10,800.60 L256.28,816.56 L258.47,860.15 L260.65,919.70 L262.83,979.25 L265.02,1022.84 L267.20,1038.80 L269.47,1022.39 L271.73,977.55 L274.00,916.30 L276.27,855.05 L278.53,810.21 L280.80,793.80 L282.92,810.63 L285.03,856.60 L287.15,919.40 L289.27,982.20 L291.38,1028.17 L293.50,1045.00 L295.62,1027.66 L297.73,980.30 L299.85,915.60 L301.97,850.90 L304.08,803.54 L306.20,786.20 L308.33,803.74 L310.47,851.67 L312.60,917.15 L314.73,982.62 L316.87,1030.56 L319.00,1048.10 L321.25,1030.62 L323.50,982.88 L325.75,917.65 L328.00,852.43 L330.25,804.68 L332.50,787.20 L334.55,804.54 L336.60,851.90 L338.65,916.60 L340.70,981.30 L342.75,1028.66 L344.80,1046.00 L347.02,1028.94 L349.23,982.33 L351.45,918.65 L353.67,854.98 L355.88,808.36 L358.10,791.30 L360.23,807.88 L362.37,853.17 L364.50,915.05 L366.63,976.92 L368.77,1022.22 L370.90,1038.80 L373.22,1022.88 L375.53,979.40 L377.85,920.00 L380.17,860.60 L382.48,817.12 L384.80,801.20 L386.87,816.36 L388.93,857.77 L391.00,914.35 L393.07,970.92 L395.13,1012.34 L397.20,1027.50 L399.42,1012.78 L401.63,972.58 L403.85,917.65 L406.07,862.73 L408.28,822.52 L410.50,807.80 L412.55,822.32 L414.60,861.97 L416.65,916.15 L418.70,970.32 L420.75,1009.98 L422.80,1024.50 L425.10,1010.12 L427.40,970.83 L429.70,917.15 L432.00,863.48 L434.30,824.18 L436.60,809.80 L438.75,824.11 L440.90,863.20 L443.05,916.60 L445.20,970.00 L447.35,1009.09 L449.50,1023.40 L451.67,1009.02 L453.83,969.75 L456.00,916.10 L458.17,862.45 L460.33,823.18 L462.50,808.80 L464.78,823.25 L467.07,862.72 L469.35,916.65 L471.63,970.57 L473.92,1010.05 L476.20,1024.50 L478.25,1009.98 L480.30,970.33 L482.35,916.15 L484.40,861.98 L486.45,822.32 L488.50,807.80 L490.72,822.38 L492.93,862.22 L495.15,916.65 L497.37,971.07 L499.58,1010.92 L501.80,1025.50 L503.97,1010.75 L506.13,970.45 L508.30,915.40 L510.47,860.35 L512.63,820.05 L514.80,805.30 L517.08,820.33 L519.37,861.37 L521.65,917.45 L523.93,973.52 L526.22,1014.57 L528.50,1029.60 L530.57,1014.39 L532.63,972.85 L534.70,916.10 L536.77,859.35 L538.83,817.81 L540.90,802.60 L543.12,817.87 L545.33,859.60 L547.55,916.60 L549.77,973.60 L551.98,1015.33 L554.20,1030.60 L556.32,1015.05 L558.43,972.57 L560.55,914.55 L562.67,856.52 L564.78,814.05 L566.90,798.50 L569.17,814.46 L571.43,858.07 L573.70,917.65 L575.97,977.22 L578.23,1020.84 L580.50,1036.80 L582.62,1020.64 L584.73,976.48 L586.85,916.15 L588.97,855.83 L591.08,811.66 L593.20,795.50 L595.37,811.46 L597.53,855.05 L599.70,914.60 L601.87,974.15 L604.03,1017.74 L606.20,1033.70 L608.32,1018.15 L610.43,975.68 L612.55,917.65 L614.67,859.62 L616.78,817.15 L618.90,801.60 L621.13,816.94 L623.37,858.85 L625.60,916.10 L627.83,973.35 L630.07,1015.26 L632.30,1030.60 L634.43,1015.40 L636.57,973.88 L638.70,917.15 L640.83,860.43 L642.97,818.90 L645.10,803.70 L647.23,818.77 L649.37,859.92 L651.50,916.15 L653.63,972.37 L655.77,1013.53 L657.90,1028.60 L660.12,1013.74 L662.33,973.12 L664.55,917.65 L666.77,862.18 L668.98,821.56 L671.20,806.70 L673.37,821.22 L675.53,860.88 L677.70,915.05 L679.87,969.22 L682.03,1008.88 L684.20,1023.40 L686.38,1009.02 L688.57,969.75 L690.75,916.10 L692.93,862.45 L695.12,823.18 L697.30,808.80 L699.45,823.18 L701.60,862.45 L703.75,916.10 L705.90,969.75 L708.05,1009.02 L710.20,1023.40 L712.37,1009.30 L714.53,970.77 L716.70,918.15 L718.87,865.52 L721.03,827.00 L723.20,812.90 L725.32,826.52 L727.43,863.73 L729.55,914.55 L731.67,965.38 L733.78,1002.58 L735.90,1016.20 L738.13,1002.86 L740.37,966.40 L742.60,916.60 L744.83,866.80 L747.07,830.34 L749.30,817.00 L751.45,830.42 L753.60,867.07 L755.75,917.15 L757.90,967.22 L760.05,1003.88 L762.20,1017.30 L764.38,1003.54 L766.57,965.95 L768.75,914.60 L770.93,863.25 L773.12,825.66 L775.30,811.90 L777.47,826.07 L779.63,864.77 L781.80,917.65 L783.97,970.52 L786.13,1009.23 L788.30,1023.40 L790.52,1008.82 L792.73,968.98 L794.95,914.55 L797.17,860.12 L799.38,820.28 L801.60,805.70 L803.75,820.77 L805.90,861.92 L808.05,918.15 L810.20,974.37 L812.35,1015.53 L814.50,1030.60 L816.68,1014.92 L818.87,972.07 L821.05,913.55 L823.23,855.02 L825.42,812.18 L827.60,796.50 L829.77,812.73 L831.93,857.07 L834.10,917.65 L836.27,978.22 L838.43,1022.57 L840.60,1038.80 L842.65,1022.43 L844.70,977.70 L846.75,916.60 L848.80,855.50 L850.85,810.77 L852.90,794.40 L855.13,810.43 L857.37,854.23 L859.60,914.05 L861.83,973.88 L864.07,1017.67 L866.30,1033.70 L868.42,1018.15 L870.53,975.68 L872.65,917.65 L874.77,859.62 L876.88,817.15 L879.00,801.60 L881.15,816.60 L883.30,857.58 L885.45,913.55 L887.60,969.52 L889.75,1010.50 L891.90,1025.50 L894.13,1010.78 L896.37,970.55 L898.60,915.60 L900.83,860.65 L903.07,820.42 L905.30,805.70 L907.52,820.36 L909.73,860.40 L911.95,915.10 L914.17,969.80 L916.38,1009.84 L918.60,1024.50 L920.75,1009.86 L922.90,969.88 L925.05,915.25 L927.20,860.62 L929.35,820.64 L931.50,806.00 L933.62,820.84 L935.73,861.38 L937.85,916.75 L939.97,972.12 L942.08,1012.66 L944.20,1027.50 L946.50,1012.03 L948.80,969.75 L951.10,912.00 L953.40,854.25 L955.70,811.97 L958.00,796.50 L960.15,812.81 L962.30,857.38 L964.45,918.25 L966.60,979.12 L968.75,1023.69 L970.90,1040.00 L973.07,1023.21 L975.23,977.33 L977.40,914.65 L979.57,851.98 L981.73,806.09 L983.90,789.30 L986.08,806.23 L988.27,852.47 L990.45,915.65 L992.63,978.82 L994.82,1025.07 L997.00,1042.00 L999.17,1025.28 L1001.33,979.60 L1003.50,917.20 L1005.67,854.80 L1007.83,809.12 L1010.00,792.40 L1012.22,808.56 L1014.43,852.73 L1016.65,913.05 L1018.87,973.38 L1021.08,1017.54 L1023.30,1033.70 L1025.42,1018.27 L1027.53,976.10 L1029.65,918.50 L1031.77,860.90 L1033.88,818.73 L1036.00,803.30 L1038.27,817.84 L1040.53,857.55 L1042.80,911.80 L1045.07,966.05 L1047.33,1005.76 L1049.60,1020.30 L1051.72,1006.59 L1053.83,969.12 L1055.95,917.95 L1058.07,866.78 L1060.18,829.31 L1062.30,815.60 L1064.43,828.90 L1066.57,865.25 L1068.70,914.90 L1070.83,964.55 L1072.97,1000.90 L1075.10,1014.20 L1077.23,1000.75 L1079.37,964.00 L1081.50,913.80 L1083.63,863.60 L1085.77,826.85 L1087.90,813.40 L1090.17,827.26 L1092.43,865.12 L1094.70,916.85 L1096.97,968.57 L1099.23,1006.44 L1101.50,1020.30 L1103.67,1005.72 L1105.83,965.88 L1108.00,911.45 L1110.17,857.03 L1112.33,817.18 L1114.50,802.60 L1116.68,818.21 L1118.87,860.88 L1121.05,919.15 L1123.23,977.42 L1125.42,1020.09 L1127.60,1035.70 L1129.77,1019.19 L1131.93,974.10 L1134.10,912.50 L1136.27,850.90 L1138.43,805.81 L1140.60,789.30 L1142.75,806.64 L1144.90,854.00 L1147.05,918.70 L1149.20,983.40 L1151.35,1030.76 L1153.50,1048.10 L1155.70,1030.14 L1157.90,981.07 L1160.10,914.05 L1162.30,847.02 L1164.50,797.96 L1166.70,780.00 L1168.85,798.30 L1171.00,848.30 L1173.15,916.60 L1175.30,984.90 L1177.45,1034.90 L1179.60,1053.20 L1181.65,1034.01 L1183.70,981.58 L1185.75,909.95 L1187.80,838.33 L1189.85,785.89 L1191.90,766.70 L1193.03,776.19 L1194.17,802.12 L1195.30,837.55 L1196.43,872.98 L1197.57,898.91 L1198.70,908.40" stroke="#FF0000" stroke-width="3.5"/>
</g>
<rect x="930.4" y="677.9" width="149.5" height="455.4" fill="none" stroke="#000" stroke-width="5.8" stroke-linejoin="round"/>
<line x1="168.50" y1="1233.50" x2="168.50" y2="1714.30" stroke="#a0a0a0" stroke-width="1.50"/>
<line x1="160.00" y1="1233.50" x2="168.50" y2="1233.50" stroke="#a0a0a0" stroke-width="1.50"/>
<text transform="translate(101.69 1242.84) scale(0.9353 1)" style="font-family:&quot;Liberation Sans&quot;,sans-serif;font-size:26.617px;font-weight:normal;font-kerning:none" fill="#000" stroke="#000" stroke-width="1.10" stroke-linejoin="round">600</text>
<line x1="160.00" y1="1293.60" x2="168.50" y2="1293.60" stroke="#a0a0a0" stroke-width="1.50"/>
<text transform="translate(101.96 1302.93) scale(0.9290 1)" style="font-family:&quot;Liberation Sans&quot;,sans-serif;font-size:26.617px;font-weight:normal;font-kerning:none" fill="#000" stroke="#000" stroke-width="1.10" stroke-linejoin="round">500</text>
<line x1="160.00" y1="1353.70" x2="168.50" y2="1353.70" stroke="#a0a0a0" stroke-width="1.50"/>
<text transform="translate(102.39 1363.04) scale(0.9191 1)" style="font-family:&quot;Liberation Sans&quot;,sans-serif;font-size:26.617px;font-weight:normal;font-kerning:none" fill="#000" stroke="#000" stroke-width="1.10" stroke-linejoin="round">400</text>
<line x1="160.00" y1="1413.80" x2="168.50" y2="1413.80" stroke="#a0a0a0" stroke-width="1.50"/>
<text transform="translate(102.01 1423.13) scale(0.9279 1)" style="font-family:&quot;Liberation Sans&quot;,sans-serif;font-size:26.617px;font-weight:normal;font-kerning:none" fill="#000" stroke="#000" stroke-width="1.10" stroke-linejoin="round">300</text>
<line x1="160.00" y1="1473.90" x2="168.50" y2="1473.90" stroke="#a0a0a0" stroke-width="1.50"/>
<text transform="translate(101.70 1483.24) scale(0.9350 1)" style="font-family:&quot;Liberation Sans&quot;,sans-serif;font-size:26.617px;font-weight:normal;font-kerning:none" fill="#000" stroke="#000" stroke-width="1.10" stroke-linejoin="round">200</text>
<line x1="160.00" y1="1534.00" x2="168.50" y2="1534.00" stroke="#a0a0a0" stroke-width="1.50"/>
<text transform="translate(101.02 1543.34) scale(0.9506 1)" style="font-family:&quot;Liberation Sans&quot;,sans-serif;font-size:26.617px;font-weight:normal;font-kerning:none" fill="#000" stroke="#000" stroke-width="1.10" stroke-linejoin="round">100</text>
<line x1="160.00" y1="1594.10" x2="168.50" y2="1594.10" stroke="#a0a0a0" stroke-width="1.50"/>
<text transform="translate(129.16 1603.43) scale(0.9510 1)" style="font-family:&quot;Liberation Sans&quot;,sans-serif;font-size:26.617px;font-weight:normal;font-kerning:none" fill="#000" stroke="#000" stroke-width="1.10" stroke-linejoin="round">0</text>
<line x1="160.00" y1="1654.20" x2="168.50" y2="1654.20" stroke="#a0a0a0" stroke-width="1.50"/>
<text transform="translate(92.22 1663.53) scale(0.9579 1)" style="font-family:&quot;Liberation Sans&quot;,sans-serif;font-size:26.617px;font-weight:normal;font-kerning:none" fill="#000" stroke="#000" stroke-width="1.10" stroke-linejoin="round">-100</text>
<line x1="160.00" y1="1714.30" x2="168.50" y2="1714.30" stroke="#a0a0a0" stroke-width="1.50"/>
<text transform="translate(92.22 1723.63) scale(0.9579 1)" style="font-family:&quot;Liberation Sans&quot;,sans-serif;font-size:26.617px;font-weight:normal;font-kerning:none" fill="#000" stroke="#000" stroke-width="1.10" stroke-linejoin="round">-200</text>
<line x1="1202.50" y1="1233.50" x2="1202.50" y2="1714.30" stroke="#a0a0a0" stroke-width="1.50"/>
<line x1="1192.60" y1="1233.50" x2="1211.40" y2="1233.50" stroke="#a0a0a0" stroke-width="1.50"/>
<text transform="translate(1227.67 1242.84) scale(0.9472 1)" style="font-family:&quot;Liberation Sans&quot;,sans-serif;font-size:26.617px;font-weight:normal;font-kerning:none" fill="#000" stroke="#000" stroke-width="1.10" stroke-linejoin="round">600</text>
<line x1="1192.60" y1="1286.92" x2="1211.40" y2="1286.92" stroke="#a0a0a0" stroke-width="1.50"/>
<text transform="translate(1227.95 1296.26) scale(0.9408 1)" style="font-family:&quot;Liberation Sans&quot;,sans-serif;font-size:26.617px;font-weight:normal;font-kerning:none" fill="#000" stroke="#000" stroke-width="1.10" stroke-linejoin="round">500</text>
<line x1="1192.60" y1="1340.34" x2="1211.40" y2="1340.34" stroke="#a0a0a0" stroke-width="1.50"/>
<text transform="translate(1228.38 1349.68) scale(0.9308 1)" style="font-family:&quot;Liberation Sans&quot;,sans-serif;font-size:26.617px;font-weight:normal;font-kerning:none" fill="#000" stroke="#000" stroke-width="1.10" stroke-linejoin="round">400</text>
<line x1="1192.60" y1="1393.77" x2="1211.40" y2="1393.77" stroke="#a0a0a0" stroke-width="1.50"/>
<text transform="translate(1228.00 1403.10) scale(0.9397 1)" style="font-family:&quot;Liberation Sans&quot;,sans-serif;font-size:26.617px;font-weight:normal;font-kerning:none" fill="#000" stroke="#000" stroke-width="1.10" stroke-linejoin="round">300</text>
<line x1="1192.60" y1="1447.19" x2="1211.40" y2="1447.19" stroke="#a0a0a0" stroke-width="1.50"/>
<text transform="translate(1227.68 1456.52) scale(0.9469 1)" style="font-family:&quot;Liberation Sans&quot;,sans-serif;font-size:26.617px;font-weight:normal;font-kerning:none" fill="#000" stroke="#000" stroke-width="1.10" stroke-linejoin="round">200</text>
<line x1="1192.60" y1="1500.61" x2="1211.40" y2="1500.61" stroke="#a0a0a0" stroke-width="1.50"/>
<text transform="translate(1227.00 1509.95) scale(0.9627 1)" style="font-family:&quot;Liberation Sans&quot;,sans-serif;font-size:26.617px;font-weight:normal;font-kerning:none" fill="#000" stroke="#000" stroke-width="1.10" stroke-linejoin="round">100</text>
<line x1="1192.60" y1="1554.03" x2="1211.40" y2="1554.03" stroke="#a0a0a0" stroke-width="1.50"/>
<text transform="translate(1227.95 1563.37) scale(0.9588 1)" style="font-family:&quot;Liberation Sans&quot;,sans-serif;font-size:26.617px;font-weight:normal;font-kerning:none" fill="#000" stroke="#000" stroke-width="1.10" stroke-linejoin="round">0</text>
<line x1="1192.60" y1="1607.46" x2="1211.40" y2="1607.46" stroke="#a0a0a0" stroke-width="1.50"/>
<text transform="translate(1227.81 1616.79) scale(0.9598 1)" style="font-family:&quot;Liberation Sans&quot;,sans-serif;font-size:26.617px;font-weight:normal;font-kerning:none" fill="#000" stroke="#000" stroke-width="1.10" stroke-linejoin="round">-100</text>
<line x1="1192.60" y1="1660.88" x2="1211.40" y2="1660.88" stroke="#a0a0a0" stroke-width="1.50"/>
<text transform="translate(1227.81 1670.21) scale(0.9598 1)" style="font-family:&quot;Liberation Sans&quot;,sans-serif;font-size:26.617px;font-weight:normal;font-kerning:none" fill="#000" stroke="#000" stroke-width="1.10" stroke-linejoin="round">-200</text>
<line x1="1192.60" y1="1714.30" x2="1211.40" y2="1714.30" stroke="#a0a0a0" stroke-width="1.50"/>
<text transform="translate(1227.81 1723.63) scale(0.9598 1)" style="font-family:&quot;Liberation Sans&quot;,sans-serif;font-size:26.617px;font-weight:normal;font-kerning:none" fill="#000" stroke="#000" stroke-width="1.10" stroke-linejoin="round">-300</text>
<line x1="160.00" y1="1593.50" x2="1202.50" y2="1593.50" stroke="#a0a0a0" stroke-width="1.50"/>
<line x1="168.50" y1="1593.50" x2="168.50" y2="1606.00" stroke="#a0a0a0" stroke-width="1.50"/>
<line x1="246.55" y1="1593.50" x2="246.55" y2="1606.00" stroke="#a0a0a0" stroke-width="1.50"/>
<line x1="324.60" y1="1593.50" x2="324.60" y2="1606.00" stroke="#a0a0a0" stroke-width="1.50"/>
<line x1="402.65" y1="1593.50" x2="402.65" y2="1606.00" stroke="#a0a0a0" stroke-width="1.50"/>
<line x1="480.70" y1="1593.50" x2="480.70" y2="1606.00" stroke="#a0a0a0" stroke-width="1.50"/>
<line x1="558.75" y1="1593.50" x2="558.75" y2="1606.00" stroke="#a0a0a0" stroke-width="1.50"/>
<line x1="636.80" y1="1593.50" x2="636.80" y2="1606.00" stroke="#a0a0a0" stroke-width="1.50"/>
<line x1="714.85" y1="1593.50" x2="714.85" y2="1606.00" stroke="#a0a0a0" stroke-width="1.50"/>
<line x1="792.90" y1="1593.50" x2="792.90" y2="1606.00" stroke="#a0a0a0" stroke-width="1.50"/>
<line x1="870.95" y1="1593.50" x2="870.95" y2="1606.00" stroke="#a0a0a0" stroke-width="1.50"/>
<line x1="949.00" y1="1593.50" x2="949.00" y2="1606.00" stroke="#a0a0a0" stroke-width="1.50"/>
<line x1="1027.05" y1="1593.50" x2="1027.05" y2="1606.00" stroke="#a0a0a0" stroke-width="1.50"/>
<line x1="1105.10" y1="1593.50" x2="1105.10" y2="1606.00" stroke="#a0a0a0" stroke-width="1.50"/>
<line x1="1183.15" y1="1593.50" x2="1183.15" y2="1606.00" stroke="#a0a0a0" stroke-width="1.50"/>
<text transform="translate(-0.79 1250.20) scale(0.8322 1)" style="font-family:&quot;Liberation Sans&quot;,sans-serif;font-size:35.191px;font-weight:normal;font-kerning:none" fill="#000">C)</text>
<text transform="translate(60.20 1591.27) rotate(-90) scale(0.9582 1)" style="font-family:&quot;Liberation Sans&quot;,sans-serif;font-size:35.191px;font-weight:normal;font-kerning:none" fill="#000">Reported cases RC</text>
<text transform="translate(1335.70 1571.28) rotate(-90) scale(0.9807 1)" style="font-family:&quot;Liberation Sans&quot;,sans-serif;font-size:34.501px;font-weight:normal;font-kerning:none" fill="#000">Reported cases RC</text>
<text transform="translate(618.69 1753.50) scale(0.8537 1)" style="font-family:&quot;Liberation Sans&quot;,sans-serif;font-size:37.791px;font-weight:normal;font-kerning:none" fill="#000">Year</text>
<line x1="285.0" y1="1274" x2="317.1" y2="1274" stroke="#0070C0" stroke-width="3.2" stroke-linecap="round"/>
<text transform="translate(321.23 1285.20) scale(0.8201 1)" style="font-family:&quot;Liberation Sans&quot;,sans-serif;font-size:35.175px;font-weight:normal;font-kerning:none" fill="#000">Pv</text>
<line x1="464.4" y1="1274" x2="496.3" y2="1274" stroke="#92D050" stroke-width="5.8" stroke-linecap="round"/>
<text transform="translate(500.00 1285.20) scale(0.9480 1)" style="font-family:&quot;Liberation Sans&quot;,sans-serif;font-size:33.442px;font-weight:normal;font-kerning:none" fill="#000">Pf</text>
<g fill="none" stroke-linejoin="round" stroke-linecap="round">
<path d="M168.50,1465.90 L170.50,1465.99 L172.51,1466.23 L174.51,1466.55 L176.52,1466.88 L178.52,1467.11 L180.53,1467.20 L182.69,1467.02 L184.85,1466.52 L187.01,1465.85 L189.18,1465.17 L191.34,1464.67 L193.50,1464.49 L195.66,1464.68 L197.82,1465.22 L199.99,1465.95 L202.15,1466.69 L204.31,1467.23 L206.47,1467.42 L208.64,1467.21 L210.80,1466.63 L212.96,1465.85 L215.12,1465.06 L217.29,1464.48 L219.45,1464.27 L221.61,1464.49 L223.77,1465.11 L225.94,1465.95 L228.10,1466.80 L230.26,1467.42 L232.42,1467.64 L234.59,1467.40 L236.75,1466.74 L238.91,1465.85 L241.07,1464.95 L243.24,1464.29 L245.40,1464.05 L247.56,1464.30 L249.72,1465.00 L251.89,1465.95 L254.05,1466.91 L256.21,1467.61 L258.38,1467.86 L260.54,1467.59 L262.70,1466.85 L264.86,1465.85 L267.02,1464.84 L269.19,1464.10 L271.35,1463.83 L273.51,1464.11 L275.67,1464.89 L277.84,1465.95 L280.00,1467.02 L282.16,1467.80 L284.32,1468.08 L286.49,1467.78 L288.65,1466.96 L290.81,1465.85 L292.97,1464.73 L295.14,1463.91 L297.30,1463.61 L299.46,1463.92 L301.62,1464.78 L303.79,1465.95 L305.95,1467.13 L308.11,1467.99 L310.27,1468.30 L312.44,1467.97 L314.60,1467.07 L316.76,1465.85 L318.92,1464.62 L321.09,1463.72 L323.25,1463.39 L325.41,1463.73 L327.57,1464.67 L329.74,1465.95 L331.90,1467.24 L334.06,1468.18 L336.22,1468.52 L337.89,1468.21 L339.55,1467.34 L341.21,1466.16 L342.88,1464.98 L344.54,1464.12 L346.20,1463.80 L348.17,1464.16 L350.13,1465.15 L352.10,1466.50 L354.07,1467.85 L356.03,1468.84 L358.00,1469.20 L360.37,1468.70 L362.73,1467.35 L365.10,1465.50 L367.47,1463.65 L369.83,1462.30 L372.20,1461.80 L374.20,1462.40 L376.20,1464.05 L378.20,1466.30 L380.20,1468.55 L382.20,1470.20 L384.20,1470.80 L386.60,1470.09 L389.00,1468.15 L391.40,1465.50 L393.80,1462.85 L396.20,1460.91 L398.60,1460.20 L400.70,1461.06 L402.80,1463.40 L404.90,1466.60 L407.00,1469.80 L409.10,1472.14 L411.20,1473.00 L413.38,1471.92 L415.57,1468.98 L417.75,1464.95 L419.93,1460.93 L422.12,1457.98 L424.30,1456.90 L426.48,1458.11 L428.67,1461.40 L430.85,1465.90 L433.03,1470.40 L435.22,1473.69 L437.40,1474.90 L439.50,1473.53 L441.60,1469.80 L443.70,1464.70 L445.80,1459.60 L447.90,1455.87 L450.00,1454.50 L452.13,1456.14 L454.27,1460.62 L456.40,1466.75 L458.53,1472.88 L460.67,1477.36 L462.80,1479.00 L464.92,1477.08 L467.03,1471.85 L469.15,1464.70 L471.27,1457.55 L473.38,1452.32 L475.50,1450.40 L477.68,1452.59 L479.87,1458.58 L482.05,1466.75 L484.23,1474.92 L486.42,1480.91 L488.60,1483.10 L490.78,1480.53 L492.97,1473.50 L495.15,1463.90 L497.33,1454.30 L499.52,1447.27 L501.70,1444.70 L503.80,1447.93 L505.90,1456.75 L508.00,1468.80 L510.10,1480.85 L512.20,1489.67 L514.30,1492.90 L516.48,1489.34 L518.67,1479.60 L520.85,1466.30 L523.03,1453.00 L525.22,1443.26 L527.40,1439.70 L529.62,1443.91 L531.83,1455.40 L534.05,1471.10 L536.27,1486.80 L538.48,1498.29 L540.70,1502.50 L542.82,1497.80 L544.93,1484.98 L547.05,1467.45 L549.17,1449.93 L551.28,1437.10 L553.40,1432.40 L555.50,1437.18 L557.60,1450.23 L559.70,1468.05 L561.80,1485.88 L563.90,1498.92 L566.00,1503.70 L568.17,1498.08 L570.33,1482.73 L572.50,1461.75 L574.67,1440.78 L576.83,1425.42 L579.00,1419.80 L581.12,1425.59 L583.23,1441.40 L585.35,1463.00 L587.47,1484.60 L589.58,1500.41 L591.70,1506.20 L593.87,1499.96 L596.03,1482.90 L598.20,1459.60 L600.37,1436.30 L602.53,1419.24 L604.70,1413.00 L606.90,1419.99 L609.10,1439.10 L611.30,1465.20 L613.50,1491.30 L615.70,1510.41 L617.90,1517.40 L619.98,1510.72 L622.07,1492.48 L624.15,1467.55 L626.23,1442.62 L628.32,1424.38 L630.40,1417.70 L632.58,1425.35 L634.77,1446.25 L636.95,1474.80 L639.13,1503.35 L641.32,1524.25 L643.50,1531.90 L645.65,1524.07 L647.80,1502.68 L649.95,1473.45 L652.10,1444.23 L654.25,1422.83 L656.40,1415.00 L658.45,1423.00 L660.50,1444.88 L662.55,1474.75 L664.60,1504.62 L666.65,1526.50 L668.70,1534.50 L670.87,1525.12 L673.03,1499.50 L675.20,1464.50 L677.37,1429.50 L679.53,1403.88 L681.70,1394.50 L683.75,1403.84 L685.80,1429.38 L687.85,1464.25 L689.90,1499.12 L691.95,1524.66 L694.00,1534.00 L696.15,1523.46 L698.30,1494.67 L700.45,1455.35 L702.60,1416.03 L704.75,1387.24 L706.90,1376.70 L708.87,1386.70 L710.83,1414.03 L712.80,1451.35 L714.77,1488.67 L716.73,1516.00 L718.70,1526.00 L720.95,1516.82 L723.20,1491.75 L725.45,1457.50 L727.70,1423.25 L729.95,1398.18 L732.20,1389.00 L734.30,1399.07 L736.40,1426.60 L738.50,1464.20 L740.60,1501.80 L742.70,1529.33 L744.80,1539.40 L746.98,1528.32 L749.17,1498.05 L751.35,1456.70 L753.53,1415.35 L755.72,1385.08 L757.90,1374.00 L760.05,1386.09 L762.20,1419.12 L764.35,1464.25 L766.50,1509.38 L768.65,1542.41 L770.80,1554.50 L772.87,1541.00 L774.93,1504.12 L777.00,1453.75 L779.07,1403.38 L781.13,1366.50 L783.20,1353.00 L785.35,1366.77 L787.50,1404.40 L789.65,1455.80 L791.80,1507.20 L793.95,1544.83 L796.10,1558.60 L798.15,1543.62 L800.20,1502.70 L802.25,1446.80 L804.30,1390.90 L806.35,1349.98 L808.40,1335.00 L810.57,1349.98 L812.73,1390.90 L814.90,1446.80 L817.07,1502.70 L819.23,1543.62 L821.40,1558.60 L823.58,1542.62 L825.77,1498.95 L827.95,1439.30 L830.13,1379.65 L832.32,1335.98 L834.50,1320.00 L836.65,1338.09 L838.80,1387.50 L840.95,1455.00 L843.10,1522.50 L845.25,1571.91 L847.40,1590.00 L849.38,1571.11 L851.37,1519.50 L853.35,1449.00 L855.33,1378.50 L857.32,1326.89 L859.30,1308.00 L861.57,1328.16 L863.83,1383.25 L866.10,1458.50 L868.37,1533.75 L870.63,1588.84 L872.90,1609.00 L874.90,1587.83 L876.90,1530.00 L878.90,1451.00 L880.90,1372.00 L882.90,1314.17 L884.90,1293.00 L887.17,1314.54 L889.43,1373.40 L891.70,1453.80 L893.97,1534.20 L896.23,1593.06 L898.50,1614.60 L900.63,1592.12 L902.77,1530.70 L904.90,1446.80 L907.03,1362.90 L909.17,1301.48 L911.30,1279.00 L913.43,1300.90 L915.57,1360.75 L917.70,1442.50 L919.83,1524.25 L921.97,1584.10 L924.10,1606.00 L926.25,1583.49 L928.40,1522.00 L930.55,1438.00 L932.70,1354.00 L934.85,1292.51 L937.00,1270.00 L939.18,1292.98 L941.37,1355.75 L943.55,1441.50 L945.73,1527.25 L947.92,1590.02 L950.10,1613.00 L952.18,1590.29 L954.27,1528.25 L956.35,1443.50 L958.43,1358.75 L960.52,1296.71 L962.60,1274.00 L964.87,1296.15 L967.13,1356.67 L969.40,1439.35 L971.67,1522.03 L973.93,1582.55 L976.20,1604.70 L978.27,1583.15 L980.33,1524.28 L982.40,1443.85 L984.47,1363.42 L986.53,1304.55 L988.60,1283.00 L990.80,1304.57 L993.00,1363.50 L995.20,1444.00 L997.40,1524.50 L999.60,1583.43 L1001.80,1605.00 L1003.95,1583.56 L1006.10,1525.00 L1008.25,1445.00 L1010.40,1365.00 L1012.55,1306.44 L1014.70,1285.00 L1016.83,1306.77 L1018.97,1366.25 L1021.10,1447.50 L1023.23,1528.75 L1025.37,1588.23 L1027.50,1610.00 L1029.72,1588.56 L1031.93,1530.00 L1034.15,1450.00 L1036.37,1370.00 L1038.58,1311.44 L1040.80,1290.00 L1042.98,1311.97 L1045.17,1372.00 L1047.35,1454.00 L1049.53,1536.00 L1051.72,1596.03 L1053.90,1618.00 L1056.13,1595.93 L1058.37,1535.62 L1060.60,1453.25 L1062.83,1370.88 L1065.07,1310.57 L1067.30,1288.50 L1069.35,1311.11 L1071.40,1372.88 L1073.45,1457.25 L1075.50,1541.62 L1077.55,1603.39 L1079.60,1626.00 L1081.57,1604.81 L1083.53,1546.92 L1085.50,1467.85 L1087.47,1388.78 L1089.43,1330.89 L1091.40,1309.70 L1093.77,1331.25 L1096.13,1390.12 L1098.50,1470.55 L1100.87,1550.98 L1103.23,1609.85 L1105.60,1631.40 L1107.80,1611.00 L1110.00,1555.25 L1112.20,1479.10 L1114.40,1402.95 L1116.60,1347.20 L1118.80,1326.80 L1120.88,1346.36 L1122.97,1399.80 L1125.05,1472.80 L1127.13,1545.80 L1129.22,1599.24 L1131.30,1618.80 L1133.40,1600.16 L1135.50,1549.22 L1137.60,1479.65 L1139.70,1410.08 L1141.80,1359.14 L1143.90,1340.50 L1145.98,1357.85 L1148.07,1405.25 L1150.15,1470.00 L1152.23,1534.75 L1154.32,1582.15 L1156.40,1599.50 L1158.47,1582.42 L1160.53,1535.75 L1162.60,1472.00 L1164.67,1408.25 L1166.73,1361.58 L1168.80,1344.50 L1171.00,1360.89 L1173.20,1405.67 L1175.40,1466.85 L1177.60,1528.03 L1179.80,1572.81 L1182.00,1589.20 L1184.27,1573.02 L1186.53,1528.83 L1188.80,1468.45 L1191.07,1408.08 L1193.33,1363.88 L1195.60,1347.70 L1196.70,1351.37 L1197.80,1361.40 L1198.90,1375.10 L1200.00,1388.80 L1201.10,1398.83 L1202.20,1402.50" stroke="#0070C0" stroke-width="3.3"/>
<path d="M168.50,1468.40 L170.50,1468.44 L172.51,1468.54 L174.51,1468.69 L176.52,1468.83 L178.52,1468.94 L180.53,1468.98 L182.69,1468.89 L184.85,1468.67 L187.01,1468.36 L189.18,1468.05 L191.34,1467.83 L193.50,1467.74 L195.66,1467.84 L197.82,1468.09 L199.99,1468.44 L202.15,1468.79 L204.31,1469.04 L206.47,1469.14 L208.64,1469.03 L210.80,1468.75 L212.96,1468.36 L215.12,1467.97 L217.29,1467.68 L219.45,1467.58 L221.61,1467.70 L223.77,1468.01 L225.94,1468.44 L228.10,1468.87 L230.26,1469.19 L232.42,1469.30 L234.59,1469.17 L236.75,1468.83 L238.91,1468.36 L241.07,1467.89 L243.24,1467.54 L245.40,1467.42 L247.56,1467.56 L249.72,1467.93 L251.89,1468.44 L254.05,1468.95 L256.21,1469.33 L258.38,1469.46 L260.54,1469.32 L262.70,1468.91 L264.86,1468.36 L267.02,1467.81 L269.19,1467.40 L271.35,1467.26 L273.51,1467.41 L275.67,1467.85 L277.84,1468.44 L280.00,1469.03 L282.16,1469.47 L284.32,1469.63 L286.49,1469.46 L288.65,1468.99 L290.81,1468.36 L292.97,1467.73 L295.14,1467.26 L297.30,1467.09 L299.46,1467.27 L301.62,1467.77 L303.79,1468.44 L305.95,1469.11 L308.11,1469.61 L310.27,1469.79 L312.44,1469.60 L314.60,1469.07 L316.76,1468.36 L318.92,1467.64 L321.09,1467.12 L323.25,1466.93 L325.41,1467.13 L327.57,1467.69 L329.74,1468.44 L331.90,1469.20 L334.06,1469.75 L336.22,1469.95 L337.67,1469.74 L339.12,1469.16 L340.56,1468.38 L342.01,1467.59 L343.45,1467.01 L344.90,1466.80 L346.82,1467.04 L348.73,1467.70 L350.65,1468.60 L352.57,1469.50 L354.48,1470.16 L356.40,1470.40 L358.72,1470.21 L361.03,1469.70 L363.35,1469.00 L365.67,1468.30 L367.98,1467.79 L370.30,1467.60 L372.48,1467.81 L374.67,1468.40 L376.85,1469.20 L379.03,1470.00 L381.22,1470.59 L383.40,1470.80 L385.58,1470.53 L387.77,1469.80 L389.95,1468.80 L392.13,1467.80 L394.32,1467.07 L396.50,1466.80 L398.55,1467.04 L400.60,1467.70 L402.65,1468.60 L404.70,1469.50 L406.75,1470.16 L408.80,1470.40 L410.97,1470.10 L413.13,1469.28 L415.30,1468.15 L417.47,1467.03 L419.63,1466.20 L421.80,1465.90 L424.00,1466.26 L426.20,1467.25 L428.40,1468.60 L430.60,1469.95 L432.80,1470.94 L435.00,1471.30 L437.03,1470.90 L439.07,1469.83 L441.10,1468.35 L443.13,1466.88 L445.17,1465.80 L447.20,1465.40 L449.38,1465.88 L451.57,1467.17 L453.75,1468.95 L455.93,1470.72 L458.12,1472.02 L460.30,1472.50 L462.35,1471.92 L464.40,1470.33 L466.45,1468.15 L468.50,1465.97 L470.55,1464.38 L472.60,1463.80 L474.78,1464.49 L476.97,1466.38 L479.15,1468.95 L481.33,1471.52 L483.52,1473.41 L485.70,1474.10 L487.75,1473.28 L489.80,1471.02 L491.85,1467.95 L493.90,1464.88 L495.95,1462.62 L498.00,1461.80 L500.18,1462.79 L502.37,1465.50 L504.55,1469.20 L506.73,1472.90 L508.92,1475.61 L511.10,1476.60 L513.28,1475.41 L515.47,1472.17 L517.65,1467.75 L519.83,1463.33 L522.02,1460.09 L524.20,1458.90 L526.52,1460.31 L528.83,1464.15 L531.15,1469.40 L533.47,1474.65 L535.78,1478.49 L538.10,1479.90 L540.25,1478.25 L542.40,1473.75 L544.55,1467.60 L546.70,1461.45 L548.85,1456.95 L551.00,1455.30 L553.02,1457.28 L555.03,1462.67 L557.05,1470.05 L559.07,1477.42 L561.08,1482.82 L563.10,1484.80 L565.30,1482.51 L567.50,1476.25 L569.70,1467.70 L571.90,1459.15 L574.10,1452.89 L576.30,1450.60 L578.38,1453.29 L580.47,1460.65 L582.55,1470.70 L584.63,1480.75 L586.72,1488.11 L588.80,1490.80 L591.08,1487.59 L593.37,1478.83 L595.65,1466.85 L597.93,1454.88 L600.22,1446.11 L602.50,1442.90 L604.63,1446.62 L606.77,1456.80 L608.90,1470.70 L611.03,1484.60 L613.17,1494.78 L615.30,1498.50 L617.43,1494.20 L619.57,1482.45 L621.70,1466.40 L623.83,1450.35 L625.97,1438.60 L628.10,1434.30 L630.38,1439.29 L632.67,1452.92 L634.95,1471.55 L637.23,1490.17 L639.52,1503.81 L641.80,1508.80 L643.95,1503.13 L646.10,1487.62 L648.25,1466.45 L650.40,1445.27 L652.55,1429.77 L654.70,1424.10 L656.83,1430.58 L658.97,1448.27 L661.10,1472.45 L663.23,1496.62 L665.37,1514.32 L667.50,1520.80 L669.70,1513.34 L671.90,1492.97 L674.10,1465.15 L676.30,1437.33 L678.50,1416.96 L680.70,1409.50 L682.92,1417.76 L685.13,1440.33 L687.35,1471.15 L689.57,1501.97 L691.78,1524.54 L694.00,1532.80 L696.13,1523.80 L698.27,1499.22 L700.40,1465.65 L702.53,1432.08 L704.67,1407.50 L706.80,1398.50 L708.90,1408.38 L711.00,1435.38 L713.10,1472.25 L715.20,1509.12 L717.30,1536.12 L719.40,1546.00 L721.53,1535.30 L723.67,1506.08 L725.80,1466.15 L727.93,1426.22 L730.07,1397.00 L732.20,1386.30 L734.42,1397.92 L736.63,1429.67 L738.85,1473.05 L741.07,1516.42 L743.28,1548.18 L745.50,1559.80 L747.57,1547.15 L749.63,1512.58 L751.70,1465.35 L753.77,1418.12 L755.83,1383.55 L757.90,1370.90 L759.93,1384.77 L761.97,1422.67 L764.00,1474.45 L766.03,1526.22 L768.07,1564.13 L770.10,1578.00 L772.28,1562.75 L774.47,1521.10 L776.65,1464.20 L778.83,1407.30 L781.02,1365.65 L783.20,1350.40 L785.35,1366.94 L787.50,1412.12 L789.65,1473.85 L791.80,1535.58 L793.95,1580.76 L796.10,1597.30 L798.15,1579.52 L800.20,1530.95 L802.25,1464.60 L804.30,1398.25 L806.35,1349.68 L808.40,1331.90 L810.65,1350.66 L812.90,1401.92 L815.15,1471.95 L817.40,1541.97 L819.65,1593.24 L821.90,1612.00 L824.00,1592.27 L826.10,1538.38 L828.20,1464.75 L830.30,1391.12 L832.40,1337.23 L834.50,1317.50 L836.72,1338.17 L838.93,1394.62 L841.15,1471.75 L843.37,1548.88 L845.58,1605.33 L847.80,1626.00 L849.72,1604.51 L851.63,1545.80 L853.55,1465.60 L855.47,1385.40 L857.38,1326.69 L859.30,1305.20 L861.57,1328.08 L863.83,1390.58 L866.10,1475.95 L868.37,1561.33 L870.63,1623.82 L872.90,1646.70 L874.90,1622.79 L876.90,1557.48 L878.90,1468.25 L880.90,1379.03 L882.90,1313.71 L884.90,1289.80 L887.17,1314.30 L889.43,1381.25 L891.70,1472.70 L893.97,1564.15 L896.23,1631.10 L898.50,1655.60 L900.63,1630.14 L902.77,1560.60 L904.90,1465.60 L907.03,1370.60 L909.17,1301.06 L911.30,1275.60 L913.43,1301.89 L915.57,1373.70 L917.70,1471.80 L919.83,1569.90 L921.97,1641.71 L924.10,1668.00 L926.25,1641.14 L928.40,1567.75 L930.55,1467.50 L932.70,1367.25 L934.85,1293.86 L937.00,1267.00 L939.18,1293.93 L941.37,1367.50 L943.55,1468.00 L945.73,1568.50 L947.92,1642.07 L950.10,1669.00 L952.18,1642.33 L954.27,1569.45 L956.35,1469.90 L958.43,1370.35 L960.52,1297.47 L962.60,1270.80 L964.85,1297.07 L967.10,1368.85 L969.35,1466.90 L971.60,1564.95 L973.85,1636.73 L976.10,1663.00 L978.18,1637.34 L980.27,1567.25 L982.35,1471.50 L984.43,1375.75 L986.52,1305.66 L988.60,1280.00 L990.80,1305.25 L993.00,1374.22 L995.20,1468.45 L997.40,1562.67 L999.60,1631.65 L1001.80,1656.90 L1003.95,1631.79 L1006.10,1563.18 L1008.25,1469.45 L1010.40,1375.73 L1012.55,1307.11 L1014.70,1282.00 L1016.83,1306.92 L1018.97,1375.00 L1021.10,1468.00 L1023.23,1561.00 L1025.37,1629.08 L1027.50,1654.00 L1029.72,1629.45 L1031.93,1562.38 L1034.15,1470.75 L1036.37,1379.12 L1038.58,1312.05 L1040.80,1287.50 L1042.98,1311.56 L1045.17,1377.30 L1047.35,1467.10 L1049.53,1556.90 L1051.72,1622.64 L1053.90,1646.70 L1055.97,1623.24 L1058.03,1559.15 L1060.10,1471.60 L1062.17,1384.05 L1064.23,1319.96 L1066.30,1296.50 L1068.52,1319.09 L1070.73,1380.83 L1072.95,1465.15 L1075.17,1549.47 L1077.38,1611.21 L1079.60,1633.80 L1081.57,1612.09 L1083.53,1552.78 L1085.50,1471.75 L1087.47,1390.73 L1089.43,1331.41 L1091.40,1309.70 L1093.68,1330.49 L1095.97,1387.28 L1098.25,1464.85 L1100.53,1542.42 L1102.82,1599.21 L1105.10,1620.00 L1107.30,1600.43 L1109.50,1546.98 L1111.70,1473.95 L1113.90,1400.93 L1116.10,1347.47 L1118.30,1327.90 L1120.47,1346.24 L1122.63,1396.35 L1124.80,1464.80 L1126.97,1533.25 L1129.13,1583.36 L1131.30,1601.70 L1133.52,1584.58 L1135.73,1537.83 L1137.95,1473.95 L1140.17,1410.08 L1142.38,1363.32 L1144.60,1346.20 L1146.77,1362.02 L1148.93,1405.22 L1151.10,1464.25 L1153.27,1523.27 L1155.43,1566.48 L1157.60,1582.30 L1159.73,1567.64 L1161.87,1527.60 L1164.00,1472.90 L1166.13,1418.20 L1168.27,1378.16 L1170.40,1363.50 L1172.63,1377.09 L1174.87,1414.22 L1177.10,1464.95 L1179.33,1515.67 L1181.57,1552.81 L1183.80,1566.40 L1186.05,1554.05 L1188.30,1520.30 L1190.55,1474.20 L1192.80,1428.10 L1195.05,1394.35 L1197.30,1382.00 L1198.02,1385.75 L1198.73,1396.00 L1199.45,1410.00 L1200.17,1424.00 L1200.88,1434.25 L1201.60,1438.00" stroke="#92D050" stroke-width="6"/>
</g>
<text transform="translate(158.27 1618.28) rotate(90) scale(1.0464 1)" style="font-family:&quot;Liberation Sans&quot;,sans-serif;font-size:32.188px;font-weight:normal;font-kerning:none" fill="#000" stroke="#000" stroke-width="0.50" stroke-linejoin="round">1968</text>
<text transform="translate(236.24 1618.28) rotate(90) scale(1.0491 1)" style="font-family:&quot;Liberation Sans&quot;,sans-serif;font-size:32.188px;font-weight:normal;font-kerning:none" fill="#000" stroke="#000" stroke-width="0.50" stroke-linejoin="round">1971</text>
<text transform="translate(314.21 1618.30) rotate(90) scale(1.0394 1)" style="font-family:&quot;Liberation Sans&quot;,sans-serif;font-size:32.188px;font-weight:normal;font-kerning:none" fill="#000" stroke="#000" stroke-width="0.50" stroke-linejoin="round">1974</text>
<text transform="translate(392.19 1618.28) rotate(90) scale(1.0498 1)" style="font-family:&quot;Liberation Sans&quot;,sans-serif;font-size:32.188px;font-weight:normal;font-kerning:none" fill="#000" stroke="#000" stroke-width="0.50" stroke-linejoin="round">1977</text>
<text transform="translate(470.16 1618.29) rotate(90) scale(1.0442 1)" style="font-family:&quot;Liberation Sans&quot;,sans-serif;font-size:32.188px;font-weight:normal;font-kerning:none" fill="#000" stroke="#000" stroke-width="0.50" stroke-linejoin="round">1980</text>
<text transform="translate(548.13 1618.28) rotate(90) scale(1.0467 1)" style="font-family:&quot;Liberation Sans&quot;,sans-serif;font-size:32.188px;font-weight:normal;font-kerning:none" fill="#000" stroke="#000" stroke-width="0.50" stroke-linejoin="round">1983</text>
<text transform="translate(626.10 1618.28) rotate(90) scale(1.0467 1)" style="font-family:&quot;Liberation Sans&quot;,sans-serif;font-size:32.188px;font-weight:normal;font-kerning:none" fill="#000" stroke="#000" stroke-width="0.50" stroke-linejoin="round">1986</text>
<text transform="translate(704.07 1618.28) rotate(90) scale(1.0484 1)" style="font-family:&quot;Liberation Sans&quot;,sans-serif;font-size:32.188px;font-weight:normal;font-kerning:none" fill="#000" stroke="#000" stroke-width="0.50" stroke-linejoin="round">1989</text>
<text transform="translate(782.04 1618.28) rotate(90) scale(1.0498 1)" style="font-family:&quot;Liberation Sans&quot;,sans-serif;font-size:32.188px;font-weight:normal;font-kerning:none" fill="#000" stroke="#000" stroke-width="0.50" stroke-linejoin="round">1992</text>
<text transform="translate(860.01 1618.29) rotate(90) scale(1.0457 1)" style="font-family:&quot;Liberation Sans&quot;,sans-serif;font-size:32.188px;font-weight:normal;font-kerning:none" fill="#000" stroke="#000" stroke-width="0.50" stroke-linejoin="round">1995</text>
<text transform="translate(937.98 1618.28) rotate(90) scale(1.0464 1)" style="font-family:&quot;Liberation Sans&quot;,sans-serif;font-size:32.188px;font-weight:normal;font-kerning:none" fill="#000" stroke="#000" stroke-width="0.50" stroke-linejoin="round">1998</text>
<text transform="translate(1015.95 1619.17) rotate(90) scale(1.0363 1)" style="font-family:&quot;Liberation Sans&quot;,sans-serif;font-size:32.188px;font-weight:normal;font-kerning:none" fill="#000" stroke="#000" stroke-width="0.50" stroke-linejoin="round">2001</text>
<text transform="translate(1093.91 1619.19) rotate(90) scale(1.0269 1)" style="font-family:&quot;Liberation Sans&quot;,sans-serif;font-size:32.188px;font-weight:normal;font-kerning:none" fill="#000" stroke="#000" stroke-width="0.50" stroke-linejoin="round">2004</text>
<text transform="translate(1171.88 1619.17) rotate(90) scale(1.0370 1)" style="font-family:&quot;Liberation Sans&quot;,sans-serif;font-size:32.188px;font-weight:normal;font-kerning:none" fill="#000" stroke="#000" stroke-width="0.50" stroke-linejoin="round">2007</text>
<rect x="930.3" y="1226.0" width="141.2" height="367.2" fill="none" stroke="#000" stroke-width="5.8" stroke-linejoin="round"/>
</svg>
</body></html>
